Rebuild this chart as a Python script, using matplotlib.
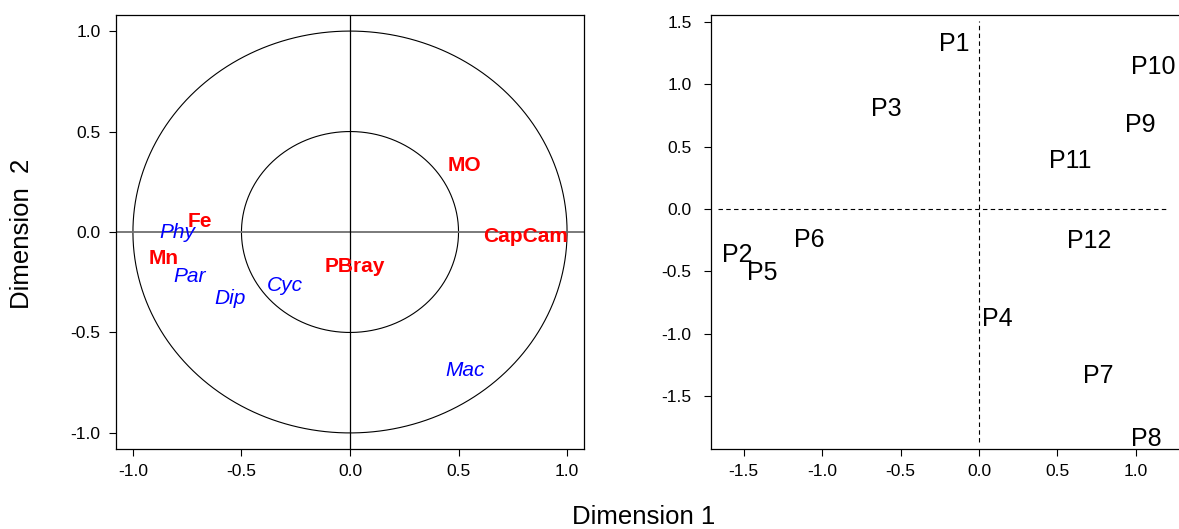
import numpy as np
import matplotlib
matplotlib.use("Agg")
import matplotlib.pyplot as plt
from matplotlib import transforms

plt.rcParams['font.family'] = ['Liberation Sans', 'DejaVu Sans']

# Left panel: correlation circle variables
env_labels = ["MO", "CapCam", "Fe", "Mn", "PBray"]
env_x = [0.525, 0.81, -0.69, -0.86, 0.023]
env_y = [0.33, -0.02, 0.053, -0.13, -0.17]

taxa_labels = ["Phy", "Par", "Dip", "Cyc", "Mac"]
taxa_x = [-0.794, -0.737, -0.553, -0.30, 0.53]
taxa_y = [0.0, -0.22, -0.33, -0.265, -0.69]

circle_radii = [1.0, 0.5]

# Right panel: sites
site_labels = ["P1", "P2", "P3", "P4", "P5", "P6", "P7", "P8", "P9", "P10", "P11", "P12"]
site_x = [-0.155, -1.54, -0.59, 0.12, -1.38, -1.08, 0.76, 1.065, 1.03, 1.11, 0.58, 0.70]
site_y = [1.34, -0.355, 0.82, -0.87, -0.50, -0.23, -1.32, -1.83, 0.69, 1.155, 0.40, -0.24]

left_ticks = [-1.0, -0.5, 0.0, 0.5, 1.0]
right_xticks = [-1.5, -1.0, -0.5, 0.0, 0.5, 1.0]
right_yticks = [-1.5, -1.0, -0.5, 0.0, 0.5, 1.0, 1.5]

W, H = 1179, 529
fig = plt.figure(figsize=(W / 100, H / 100), dpi=100)

def style_axes(ax):
    ax.tick_params(direction='out', length=5, width=0.8, pad=6, labelsize=12.5,
                   colors='black')
    for s in ax.spines.values():
        s.set_linewidth(0.9)

# Left axes
axL = fig.add_axes([116 / W, 80 / H, 468 / W, 434 / H])
axL.set_xlim(-1.078, 1.078)
axL.set_ylim(-1.08, 1.08)
theta = np.linspace(0, 2 * np.pi, 400)
for r in circle_radii:
    axL.plot(r * np.cos(theta), r * np.sin(theta), color='black', lw=0.8)
axL.axhline(0, color='#707070', lw=1.3)
axL.axvline(0, color='black', lw=0.9)
for lab, x, y in zip(env_labels, env_x, env_y):
    axL.text(x, y, lab, color='#ff0000', fontsize=15, fontweight='bold',
             ha='center', va='center')
for lab, x, y in zip(taxa_labels, taxa_x, taxa_y):
    axL.text(x, y, lab, color='#0000ff', fontsize=15, style='italic',
             ha='center', va='center')
axL.set_xticks(left_ticks)
axL.set_yticks(left_ticks)
axL.set_xticklabels([f"{t:.1f}" for t in left_ticks])
axL.set_yticklabels([f"{t:.1f}" for t in left_ticks])
style_axes(axL)

# Right axes (right edge extends past the image)
axR = fig.add_axes([711 / W, 80 / H, 476 / W, 434 / H])
x0, x1 = -1.709, -1.709 + 476 / 156.8
axR.set_xlim(x0, x1)
axR.set_ylim(-1.925, 1.556)
axR.plot([-1.665, 1.2], [0, 0], color='black', lw=0.8, dashes=(4, 3))
axR.plot([0, 0], [-1.87, 1.51], color='black', lw=0.8, dashes=(4, 3))
site_fs = 18
trans_site = transforms.offset_copy(axR.transData, fig=fig, x=0,
                                    y=-site_fs * 0.72 / 2, units='points')
for lab, x, y in zip(site_labels, site_x, site_y):
    axR.text(x, y, lab, color='black', fontsize=site_fs, ha='center',
             va='baseline', transform=trans_site)
axR.set_xticks(right_xticks)
axR.set_yticks(right_yticks)
axR.set_xticklabels([f"{t:.1f}" for t in right_xticks])
axR.set_yticklabels([f"{t:.1f}" for t in right_yticks])
style_axes(axR)
axR.tick_params(axis='y', pad=9)

fig.text(644 / W, 1 - 517 / H, "Dimension 1", fontsize=18.5, ha='center', va='center')
fig.text(22 / W, 1 - 234 / H, "Dimension  2", fontsize=18.5, ha='center', va='center',
         rotation=90)

fig.savefig("out.png", dpi=100)
